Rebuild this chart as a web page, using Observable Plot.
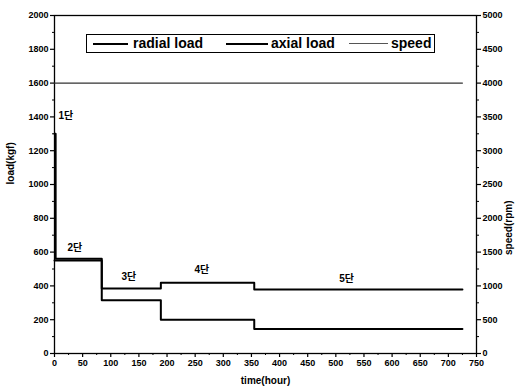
<!DOCTYPE html>
<html>
<head>
<meta charset="utf-8">
<script src="https://cdn.jsdelivr.net/npm/d3@7"></script>
<script src="https://cdn.jsdelivr.net/npm/@observablehq/plot@0.6"></script>
<style>
  body { margin: 0; background: #fff; }
  #wrap { position: relative; width: 516px; height: 392px; font-family: "Liberation Sans", "Noto Sans CJK KR", sans-serif; }
  #legend { position: absolute; left: 86px; top: 34px; width: 347px; height: 17px; border: 1px solid #000; background: #fff;
            font-weight: bold; font-size: 14px; line-height: 17px; }
  #legend span.t { position: absolute; top: 0; }
  #legend span.l { position: absolute; top: 8px; height: 0; }
</style>
</head>
<body>
<div id="wrap"></div>
<script>
// Data
const radialTime = [0, 2, 84, 189, 355, 725];
const radialLoad = [1300, 560, 385, 418, 378, 378];
const axialTime = [0, 84, 189, 355, 725];
const axialLoad = [550, 315, 200, 145, 145];
const speedTime = [0, 725];
const speedRpm = [4000, 4000];
const stageLabels = ["1단", "2단", "3단", "4단", "5단"];
const stageTime = [7, 23, 132, 262, 519];
const stageLoad = [1408, 627, 451, 495, 444];
const stageAnchor = ["start", "start", "middle", "middle", "middle"];
const xTicks = d3.range(0, 751, 50);
const xMinor = d3.range(25, 751, 50);
const yTicks = d3.range(0, 2001, 200);
const yMinor = d3.range(100, 2001, 200);
const rpmPerKgf = 2.5;

const radial = radialTime.map((t, i) => ({t, v: radialLoad[i]}));
const axial = axialTime.map((t, i) => ({t, v: axialLoad[i]}));
const speed = speedTime.map((t, i) => ({t, v: speedRpm[i] / rpmPerKgf}));
const stages = stageLabels.map((s, i) => ({s, t: stageTime[i], v: stageLoad[i], a: stageAnchor[i]}));

const font = {fontFamily: "Liberation Sans, Noto Sans CJK KR, sans-serif"};
const tickStyle = {fontSize: 9, fontWeight: "bold", fill: "#000"};
const fmt = d3.format("d");

const chart = Plot.plot({
  width: 516, height: 392,
  marginLeft: 54, marginRight: 40, marginTop: 15, marginBottom: 39,
  style: {...font, background: "#fff", color: "#000", overflow: "visible"},
  x: {domain: [0, 750]},
  y: {domain: [0, 2000]},
  marks: [
    Plot.axisX({ticks: xTicks, tickSize: 4, tickPadding: 2, label: null, tickFormat: fmt, ...tickStyle, strokeWidth: 1.2}),
    Plot.axisX({ticks: xMinor, tickSize: 2, tickFormat: () => "", label: null}),
    Plot.axisY({ticks: yTicks, tickSize: 4, tickPadding: 2, label: null, tickFormat: fmt, ...tickStyle, strokeWidth: 1.2}),
    Plot.axisY({ticks: yMinor, tickSize: 2, tickFormat: () => "", label: null}),
    Plot.axisY({anchor: "right", ticks: yTicks, tickSize: 4, tickPadding: 2, label: null,
                tickFormat: d => fmt(d * rpmPerKgf), ...tickStyle, strokeWidth: 1.2}),
    Plot.axisY({anchor: "right", ticks: yMinor, tickSize: 2, tickFormat: () => "", label: null}),
    Plot.frame({stroke: "#000", strokeWidth: 1.3}),
    Plot.line(speed, {x: "t", y: "v", stroke: "#333", strokeWidth: 1.2}),
    Plot.line(axial, {x: "t", y: "v", curve: "step-after", stroke: "#000", strokeWidth: 2}),
    Plot.line(radial, {x: "t", y: "v", curve: "step-after", stroke: "#000", strokeWidth: 2}),
    Plot.text(stages.filter(d => d.a === "start"), {x: "t", y: "v", text: "s", textAnchor: "start", fontSize: 10, fontWeight: "bold", fill: "#000"}),
    Plot.text(stages.filter(d => d.a === "middle"), {x: "t", y: "v", text: "s", textAnchor: "middle", fontSize: 10, fontWeight: "bold", fill: "#000"}),
    Plot.text(["load(kgf)"], {frameAnchor: "left", dx: -44, rotate: -90, fontSize: 10, fontWeight: "bold", fill: "#000"}),
    Plot.text(["speed(rpm)"], {frameAnchor: "right", dx: 32, dy: 16, rotate: -90, fontSize: 10, fontWeight: "bold", fill: "#000"}),
    Plot.text(["time(hour)"], {frameAnchor: "bottom", dy: 30, fontSize: 10, fontWeight: "bold", fill: "#000"})
  ]
});

const wrap = document.getElementById("wrap");
wrap.appendChild(chart);

// Legend (inside the plot frame)
const legendItems = ["radial load", "axial load", "speed"];
const legendLine = [[6, 35], [139, 42], [262, 39]];
const legendText = [46, 184, 304];
const legendStroke = [["#000", 2], ["#000", 2], ["#555", 1]];
const lg = document.createElement("div");
lg.id = "legend";
legendItems.forEach((name, i) => {
  const l = document.createElement("span");
  l.className = "l";
  l.style.left = legendLine[i][0] + "px";
  l.style.width = legendLine[i][1] + "px";
  l.style.borderTop = legendStroke[i][1] + "px solid " + legendStroke[i][0];
  lg.appendChild(l);
  const t = document.createElement("span");
  t.className = "t";
  t.style.left = legendText[i] + "px";
  t.textContent = name;
  lg.appendChild(t);
});
wrap.appendChild(lg);
</script>
</body>
</html>
